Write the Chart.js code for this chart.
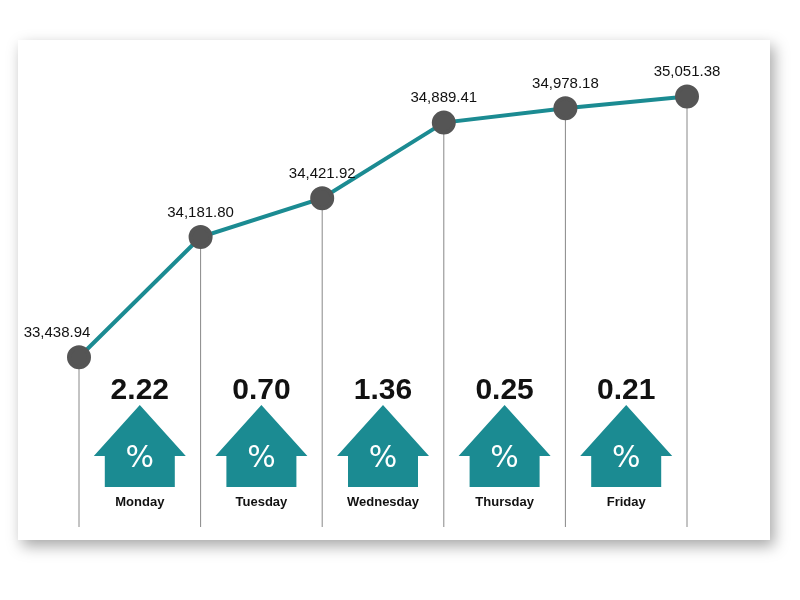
<!DOCTYPE html>
<html>
<head>
<meta charset="utf-8">
<script src="https://cdn.jsdelivr.net/npm/chart.js@4"></script>
<style>
  html, body { margin: 0; padding: 0; background: #fff; }
  #wrap { width: 800px; height: 600px; }
</style>
</head>
<body>
<div id="wrap"><canvas id="chart" width="800" height="600"></canvas></div>
<script>
const closes = [33438.94, 34181.80, 34421.92, 34889.41, 34978.18, 35051.38];
const closeLabels = ['33,438.94', '34,181.80', '34,421.92', '34,889.41', '34,978.18', '35,051.38'];
const changes = ['2.22', '0.70', '1.36', '0.25', '0.21'];
const days = ['Monday', 'Tuesday', 'Wednesday', 'Thursday', 'Friday'];

const teal = '#1b8b92';

// card, drop lines, value labels, arrows
const decor = {
    id: 'decor',
    beforeDraw(chart) {
        const ctx = chart.ctx;
        ctx.save();
        ctx.fillStyle = '#fff';
        ctx.fillRect(0, 0, 800, 600);
        ctx.shadowColor = 'rgba(0,0,0,0.35)';
        ctx.shadowBlur = 14;
        ctx.shadowOffsetX = 4;
        ctx.shadowOffsetY = 6;
        ctx.fillRect(18, 40, 752, 500);
        ctx.restore();
    },
    beforeDatasetsDraw(chart) {
        const ctx = chart.ctx;
        const x = chart.scales.x, y = chart.scales.y;
        const bottom = chart.chartArea.bottom;
        ctx.save();
        ctx.strokeStyle = '#888';
        ctx.lineWidth = 1;
        closes.forEach((v, i) => {
            ctx.beginPath();
            ctx.moveTo(x.getPixelForValue(i), y.getPixelForValue(v));
            ctx.lineTo(x.getPixelForValue(i), bottom);
            ctx.stroke();
        });
        ctx.restore();
    },
    afterDatasetsDraw(chart) {
        const ctx = chart.ctx;
        const x = chart.scales.x, y = chart.scales.y;
        ctx.save();
        ctx.fillStyle = '#111';
        ctx.font = '15px "Liberation Sans Narrow", "Liberation Sans", sans-serif';
        ctx.textAlign = 'center';
        ctx.textBaseline = 'bottom';
        closes.forEach((v, i) => {
            const px = x.getPixelForValue(i), py = y.getPixelForValue(v);
            const dx = i === 0 ? -22 : 0;
            ctx.fillText(closeLabels[i], px + dx, py - 17);
        });
        changes.forEach((c, i) => {
            const cx = x.getPixelForValue(i + 0.5);
            ctx.fillStyle = '#111';
            ctx.font = 'bold 30px "Liberation Sans", sans-serif';
            ctx.textBaseline = 'middle';
            ctx.fillText(c, cx, 391);
            // arrow
            ctx.fillStyle = teal;
            ctx.beginPath();
            ctx.moveTo(cx, 405);
            ctx.lineTo(cx + 46, 456);
            ctx.lineTo(cx + 35, 456);
            ctx.lineTo(cx + 35, 487);
            ctx.lineTo(cx - 35, 487);
            ctx.lineTo(cx - 35, 456);
            ctx.lineTo(cx - 46, 456);
            ctx.closePath();
            ctx.fill();
            ctx.fillStyle = '#fff';
            ctx.font = '30px "DejaVu Sans", sans-serif';
            ctx.fillText('%', cx, 459);
            ctx.fillStyle = '#111';
            ctx.font = 'bold 13px "Liberation Sans Narrow", "Liberation Sans", sans-serif';
            ctx.fillText(days[i], cx, 502);
        });
        ctx.restore();
    }
};

new Chart(document.getElementById('chart'), {
    type: 'line',
    data: {
        datasets: [{
            data: closes.map((v, i) => ({ x: i, y: v })),
            borderColor: teal,
            borderWidth: 4,
            pointRadius: 10,
            pointHoverRadius: 10,
            pointBackgroundColor: '#555',
            pointBorderColor: '#555',
            tension: 0,
            clip: false
        }]
    },
    options: {
        responsive: false,
        animation: false,
        layout: { padding: { left: 79, right: 113, top: 40, bottom: 73 } },
        plugins: { legend: { display: false }, tooltip: { enabled: false } },
        scales: {
            x: { type: 'linear', min: 0, max: 5, display: false },
            y: { min: 32390, max: 35400, display: false }
        }
    },
    plugins: [decor]
});
</script>
</body>
</html>
